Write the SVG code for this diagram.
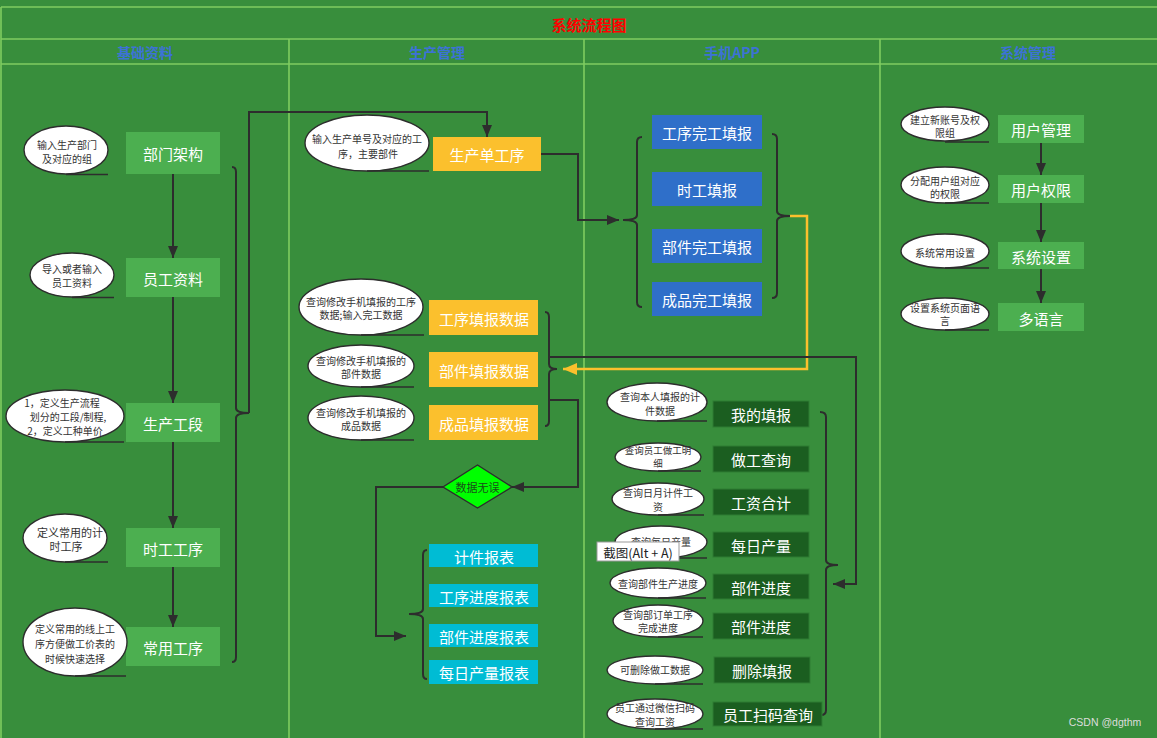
<svg xmlns="http://www.w3.org/2000/svg" width="1157" height="738" viewBox="0 0 1157 738">
<style>
.grid{stroke:#7FCC60;stroke-width:1.6;fill:none}
.lg{fill:#4CAF50}
.dg{fill:#1B5E20;stroke:#2E7D32;stroke-width:1}
.bl{fill:#2F6FC9}
.yl{fill:#FBC02D}
.cy{fill:#00BCD4}
.bt{fill:#ffffff;font-family:"Noto Sans CJK SC","Microsoft YaHei",sans-serif;font-size:15px;text-anchor:middle;dominant-baseline:central}
.el{fill:#ffffff;stroke:#2d2d2d;stroke-width:1.4}
.tail{stroke:#2d2d2d;stroke-width:1.6;fill:none}
.et{fill:#333333;font-family:"Noto Sans CJK SC","Microsoft YaHei",sans-serif;font-size:10px;text-anchor:middle;dominant-baseline:central}
.sm{font-size:9.5px}
.conn{stroke:#2d2d2d;stroke-width:2;fill:none}
.brace{stroke:#2d2d2d;stroke-width:2;fill:none}
.yconn{stroke:#FBC02D;stroke-width:2.5;fill:none}
.hdr{fill:#3C72D6;font-family:"Noto Sans CJK SC","Microsoft YaHei",sans-serif;font-size:14px;font-weight:bold;text-anchor:middle;dominant-baseline:central}
</style>
<defs>
<marker id="arr" markerUnits="userSpaceOnUse" markerWidth="12" markerHeight="10" refX="12" refY="5" orient="auto">
<path d="M0,0 L12,5 L0,10 z" fill="#2d2d2d"/>
</marker>
<marker id="yarr" markerUnits="userSpaceOnUse" markerWidth="14" markerHeight="12" refX="14" refY="6" orient="auto">
<path d="M0,0 L14,6 L0,12 z" fill="#FBC02D"/>
</marker>
</defs>
<rect x="0" y="0" width="1157" height="738" fill="#388E3C"/>
<g id="frame">
<path class="grid" d="M1,7 L1157,7 M1,39 L1157,39 M1,64 L1157,64 M1,7 L1,738 M289,39 L289,738 M584,39 L584,738 M880,39 L880,738"/>
<text x="589" y="24" fill="#FF0000" font-family="'Noto Sans CJK SC','Microsoft YaHei',sans-serif" font-size="15" font-weight="bold" text-anchor="middle" dominant-baseline="central">系统流程图</text>
<text class="hdr" x="145" y="52">基础资料</text>
<text class="hdr" x="437" y="52">生产管理</text>
<text class="hdr" x="732" y="52">手机APP</text>
<text class="hdr" x="1028" y="52">系统管理</text>
</g>

<g id="connectors">
<path class="conn" marker-end="url(#arr)" d="M173,174 L173,258"/>
<path class="conn" marker-end="url(#arr)" d="M173,297 L173,403"/>
<path class="conn" marker-end="url(#arr)" d="M173,442 L173,528"/>
<path class="conn" marker-end="url(#arr)" d="M173,567 L173,627"/>
<path class="brace" d="M232,167 Q236,167 236,172 L236,408 Q236,413 249,413 Q236,413 236,418 L236,657 Q236,662 232,662"/>
<path class="conn" marker-end="url(#arr)" d="M249,413 L249,112 L487,112 L487,137"/>
<path class="conn" marker-end="url(#arr)" d="M541,154 L578,154 L578,220 L619,220"/>
<path class="brace" d="M642,137 Q637,137 637,142 L637,215 Q637,220 623,220 Q637,220 637,225 L637,302 Q637,307 642,307"/>
<path class="brace" d="M772,134 Q777,134 777,139 L777,211 Q777,216 790,216 Q777,216 777,221 L777,293 Q777,298 772,298"/>
<path class="yconn" marker-end="url(#yarr)" d="M790,216 L807,216 L807,369 L563,369"/>
<path class="brace" d="M545,312 Q549,312 549,317 L549,364 Q549,369 557,369 Q549,369 549,374 L549,421 Q549,426 545,426"/>
<path class="conn" marker-end="url(#arr)" d="M549,357 L856,357 L856,584 L833,584"/>
<path class="conn" marker-end="url(#arr)" d="M549,400 L578,400 L578,487 L512,487"/>
<path class="conn" marker-end="url(#arr)" d="M443,487 L376,487 L376,636 L406,636"/>
<path class="brace" d="M427,550 Q423,550 423,555 L423,609 Q423,614 409,614 Q423,614 423,619 L423,674 Q423,679 427,679"/>
<path class="brace" d="M820,412 Q826,412 826,417 L826,560 Q826,565 838,565 Q826,565 826,570 L826,710 Q826,715 821,715"/>
<path class="conn" marker-end="url(#arr)" d="M1041,143 L1041,175"/>
<path class="conn" marker-end="url(#arr)" d="M1041,203 L1041,242"/>
<path class="conn" marker-end="url(#arr)" d="M1041,269 L1041,303"/>
</g>

<g id="n-bumen"><rect class="lg" x="126" y="132" width="94" height="42"/><text class="bt" x="173" y="153">部门架构</text></g>
<g id="n-yuangong"><rect class="lg" x="126" y="258" width="94" height="39"/><text class="bt" x="173" y="278">员工资料</text></g>
<g id="n-gongduan"><rect class="lg" x="126" y="403" width="94" height="39"/><text class="bt" x="173" y="423">生产工段</text></g>
<g id="n-shigong"><rect class="lg" x="126" y="528" width="94" height="39"/><text class="bt" x="173" y="548">时工工序</text></g>
<g id="n-changyong"><rect class="lg" x="126" y="627" width="94" height="39"/><text class="bt" x="173" y="647">常用工序</text></g>

<g id="e1"><ellipse class="el" cx="66" cy="150" rx="42" ry="24"/><path class="tail" d="M66,174.5 L108,174.5"/><text class="et" x="67" y="144">输入生产部门</text><text class="et" x="67" y="158">及对应的组</text></g>
<g id="e2"><ellipse class="el" cx="72" cy="275" rx="42" ry="22"/><path class="tail" d="M72,297.5 L114,297.5"/><text class="et" x="72" y="268">导入或者输入</text><text class="et" x="72" y="282">员工资料</text></g>
<g id="e3"><ellipse class="el" cx="65" cy="416" rx="59" ry="26"/><path class="tail" d="M65,442 L124,442"/><text class="et" x="62" y="402">1，定义生产流程</text><text class="et" x="68" y="416">划分的工段/制程,</text><text class="et" x="65" y="430">2，定义工种单价</text></g>
<g id="e4"><ellipse class="el" cx="65" cy="538" rx="42" ry="24"/><path class="tail" d="M65,562 L108,562"/><text class="et" x="70" y="532" style="font-size:11px">定义常用的计</text><text class="et" x="66" y="546" style="font-size:11px">时工序</text></g>
<g id="e5"><ellipse class="el" cx="75" cy="642" rx="52" ry="34"/><path class="tail" d="M75,676 L126,676"/><text class="et" x="75" y="628">定义常用的线上工</text><text class="et" x="75" y="643">序方便做工价表的</text><text class="et" x="75" y="658">时候快速选择</text></g>

<g id="n-scd"><rect class="yl" x="433" y="137" width="108" height="34"/><text class="bt" x="487" y="154">生产单工序</text></g>
<g id="n-gxtb"><rect class="yl" x="429" y="300" width="109" height="35"/><text class="bt" x="484" y="318">工序填报数据</text></g>
<g id="n-bjtb"><rect class="yl" x="429" y="352" width="109" height="35"/><text class="bt" x="484" y="370">部件填报数据</text></g>
<g id="n-cptb"><rect class="yl" x="429" y="405" width="109" height="35"/><text class="bt" x="484" y="423">成品填报数据</text></g>
<g id="n-check"><polygon points="477.5,465 512,487 477.5,508 443,487" fill="#00FF00" stroke="#2d2d2d" stroke-width="1.4"/><text class="et" x="477.5" y="487" style="font-size:11px;fill:#1a4d1a">数据无误</text></g>
<g id="n-jjbb"><rect class="cy" x="429" y="544" width="109" height="23"/><text class="bt" x="484" y="556">计件报表</text></g>
<g id="n-gxjd"><rect class="cy" x="429" y="584" width="109" height="23"/><text class="bt" x="484" y="596">工序进度报表</text></g>
<g id="n-bjjd"><rect class="cy" x="429" y="624" width="109" height="23"/><text class="bt" x="484" y="636">部件进度报表</text></g>
<g id="n-mrcl"><rect class="cy" x="429" y="660" width="109" height="24"/><text class="bt" x="484" y="672">每日产量报表</text></g>

<g id="e6"><ellipse class="el" cx="367" cy="143" rx="62" ry="28"/><path class="tail" d="M367,171 L429,171"/><text class="et" x="367" y="138">输入生产单号及对应的工</text><text class="et" x="368" y="153">序，主要部件</text></g>
<g id="e7"><ellipse class="el" cx="361" cy="307" rx="62" ry="28"/><path class="tail" d="M361,335 L424,335"/><text class="et" x="361" y="301">查询修改手机填报的工序</text><text class="et" x="361" y="314">数据;输入完工数据</text></g>
<g id="e8"><ellipse class="el" cx="361" cy="366" rx="53" ry="21"/><path class="tail" d="M361,387 L414,387"/><text class="et" x="361" y="360">查询修改手机填报的</text><text class="et" x="361" y="373">部件数据</text></g>
<g id="e9"><ellipse class="el" cx="361" cy="418" rx="53" ry="22"/><path class="tail" d="M361,440 L414,440"/><text class="et" x="361" y="412">查询修改手机填报的</text><text class="et" x="361" y="425">成品数据</text></g>

<g id="n-gxwg"><rect class="bl" x="652" y="115" width="110" height="34"/><text class="bt" x="707" y="132">工序完工填报</text></g>
<g id="n-sgtb"><rect class="bl" x="652" y="172" width="110" height="34"/><text class="bt" x="707" y="189">时工填报</text></g>
<g id="n-bjwg"><rect class="bl" x="652" y="229" width="110" height="34"/><text class="bt" x="707" y="246">部件完工填报</text></g>
<g id="n-cpwg"><rect class="bl" x="652" y="282" width="110" height="34"/><text class="bt" x="707" y="299">成品完工填报</text></g>

<g id="n-wdtb"><rect class="dg" x="713" y="401" width="96" height="26"/><text class="bt" x="761" y="414">我的填报</text></g>
<g id="n-zgcx"><rect class="dg" x="713" y="446" width="96" height="26"/><text class="bt" x="761" y="459">做工查询</text></g>
<g id="n-gzhj"><rect class="dg" x="713" y="489" width="96" height="26"/><text class="bt" x="761" y="502">工资合计</text></g>
<g id="n-mrcl2"><rect class="dg" x="713" y="532" width="96" height="25"/><text class="bt" x="761" y="545">每日产量</text></g>
<g id="n-bjjd1"><rect class="dg" x="713" y="574" width="96" height="25"/><text class="bt" x="761" y="587">部件进度</text></g>
<g id="n-bjjd2"><rect class="dg" x="713" y="613" width="96" height="26"/><text class="bt" x="761" y="626">部件进度</text></g>
<g id="n-sctb"><rect class="dg" x="714" y="657" width="96" height="26"/><text class="bt" x="762" y="670">删除填报</text></g>
<g id="n-smcx"><rect class="dg" x="713" y="702" width="109" height="24"/><text class="bt" x="768" y="714">员工扫码查询</text></g>

<g id="e10"><ellipse class="el" cx="657" cy="402" rx="50" ry="19"/><path class="tail" d="M657,421 L707,421"/><text class="et" x="660" y="396">查询本人填报的计</text><text class="et" x="660" y="410">件数据</text></g>
<g id="e11"><ellipse class="el" cx="658" cy="457" rx="43" ry="14"/><path class="tail" d="M658,471 L701,471"/><text class="et sm" x="658" y="450">查询员工做工明</text><text class="et sm" x="658" y="463">细</text></g>
<g id="e12"><ellipse class="el" cx="658" cy="499" rx="46" ry="16"/><path class="tail" d="M658,515 L704,515"/><text class="et" x="658" y="492">查询日月计件工</text><text class="et" x="658" y="506">资</text></g>
<g id="e13"><ellipse class="el" cx="661" cy="542" rx="46" ry="16"/><path class="tail" d="M661,558 L707,558"/><text class="et" x="661" y="541">查询每日产量</text></g>
<g id="e14"><ellipse class="el" cx="658" cy="583" rx="48" ry="15"/><path class="tail" d="M658,598 L706,598"/><text class="et" x="658" y="583">查询部件生产进度</text></g>
<g id="e15"><ellipse class="el" cx="658" cy="621" rx="45" ry="16"/><path class="tail" d="M658,637 L703,637"/><text class="et" x="658" y="614">查询部订单工序</text><text class="et" x="658" y="627">完成进度</text></g>
<g id="e16"><ellipse class="el" cx="655" cy="670" rx="48" ry="14"/><path class="tail" d="M655,684 L703,684"/><text class="et" x="655" y="669">可删除做工数据</text></g>
<g id="e17"><ellipse class="el" cx="655" cy="714" rx="48" ry="15"/><path class="tail" d="M655,729 L703,729"/><text class="et" x="655" y="707">员工通过微信扫码</text><text class="et" x="655" y="721">查询工资</text></g>

<g id="n-yhgl"><rect class="lg" x="998" y="115" width="86" height="28"/><text class="bt" x="1041" y="129">用户管理</text></g>
<g id="n-yhqx"><rect class="lg" x="998" y="175" width="86" height="28"/><text class="bt" x="1041" y="189">用户权限</text></g>
<g id="n-xtsz"><rect class="lg" x="998" y="242" width="86" height="27"/><text class="bt" x="1041" y="256">系统设置</text></g>
<g id="n-dyy"><rect class="lg" x="998" y="303" width="86" height="28"/><text class="bt" x="1041" y="318">多语言</text></g>

<g id="e18"><ellipse class="el" cx="945" cy="124" rx="44" ry="17"/><path class="tail" d="M945,142 L989,142"/><text class="et" x="945" y="119">建立新账号及权</text><text class="et" x="945" y="132">限组</text></g>
<g id="e19"><ellipse class="el" cx="945" cy="185" rx="44" ry="18"/><path class="tail" d="M945,203 L989,203"/><text class="et" x="945" y="180">分配用户组对应</text><text class="et" x="945" y="193">的权限</text></g>
<g id="e20"><ellipse class="el" cx="945" cy="251" rx="44" ry="17"/><path class="tail" d="M945,268 L989,268"/><text class="et" x="945" y="252">系统常用设置</text></g>
<g id="e21"><ellipse class="el" cx="945" cy="314" rx="44" ry="16"/><path class="tail" d="M945,330 L989,330"/><text class="et" x="945" y="307">设置系统页面语</text><text class="et" x="945" y="320">言</text></g>

<g id="tooltip"><rect x="597" y="542" width="82" height="19" fill="#ffffff" stroke="#9a9a9a" stroke-width="1"/><text x="638" y="552" fill="#222222" font-family="'Noto Sans CJK SC','Microsoft YaHei',sans-serif" font-size="12.5" text-anchor="middle" dominant-baseline="central">截图(Alt + A)</text></g>
<text x="1105" y="722" fill="#dddddd" font-family="'Liberation Sans',Arial,sans-serif" font-size="10.5" text-anchor="middle" dominant-baseline="central">CSDN @dgthm</text>
</svg>
